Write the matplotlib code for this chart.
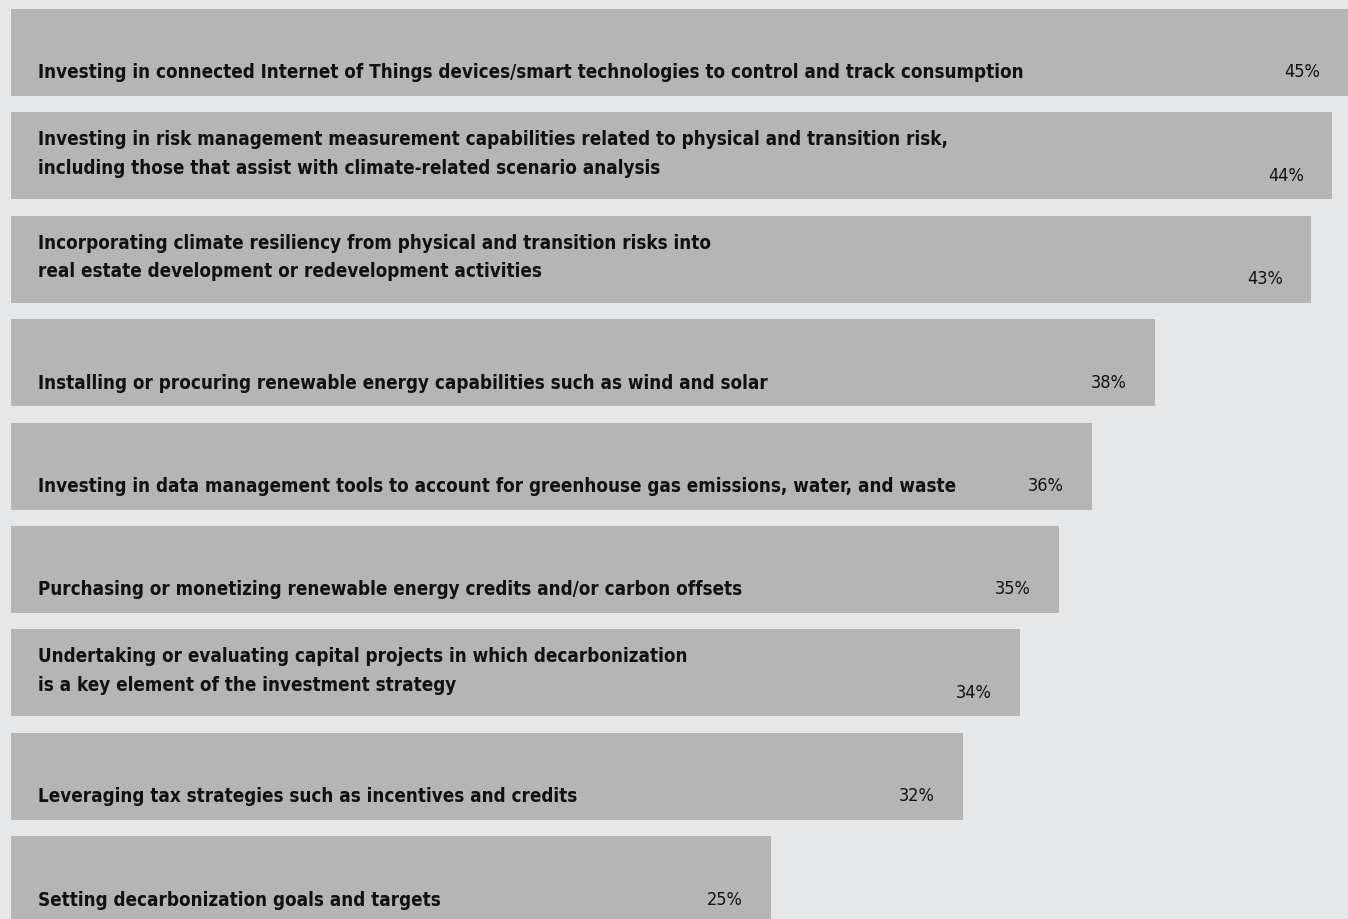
import matplotlib.pyplot as plt

# survey responses, top to bottom
labels = [
    "Investing in connected Internet of Things devices/smart technologies to control and track consumption",
    "Investing in risk management measurement capabilities related to physical and transition risk,\nincluding those that assist with climate-related scenario analysis",
    "Incorporating climate resiliency from physical and transition risks into\nreal estate development or redevelopment activities",
    "Installing or procuring renewable energy capabilities such as wind and solar",
    "Investing in data management tools to account for greenhouse gas emissions, water, and waste",
    "Purchasing or monetizing renewable energy credits and/or carbon offsets",
    "Undertaking or evaluating capital projects in which decarbonization\nis a key element of the investment strategy",
    "Leveraging tax strategies such as incentives and credits",
    "Setting decarbonization goals and targets",
]
# bar lengths, printed labels are rounded
values = [45.3, 44.0, 43.3, 38.1, 36.0, 34.9, 33.6, 31.7, 25.3]
pct_labels = ["45%", "44%", "43%", "38%", "36%", "35%", "34%", "32%", "25%"]

bg = "#e6e7e9"
bar_color = "#b5b5b5"
txt = "#111111"

fig = plt.figure(figsize=(13.48, 9.2), dpi=100)
fig.patch.set_facecolor(bg)
ax = fig.add_axes([0, 0, 1, 1])
ax.set_facecolor(bg)

ypos = list(range(len(values)))
bar_h = 0.84
ax.barh(ypos, values, height=bar_h, color=bar_color, left=0)

# ~30 px per percentage point, bars start 11 px in
scale = 30.03
xmax = 1337 / scale
ax.set_xlim(-11 / scale, xmax)
ax.set_ylim(8.38, -0.517)
ax.axis("off")

for y, lab, v, p in zip(ypos, labels, values, pct_labels):
    bottom = y + bar_h / 2
    # two-line labels sit a little higher in the bar
    dy = 22.5 if "\n" in lab else 14.5
    ax.annotate(lab, xy=(0, bottom), xytext=(27, dy), textcoords="offset pixels",
                ha="left", va="bottom", fontsize=13.5, fontweight="bold",
                family="DejaVu Sans", fontstretch="condensed",
                color=txt, linespacing=1.63, annotation_clip=False)
    ax.annotate(p, xy=(min(v, xmax), bottom), xytext=(-28, 19.5),
                textcoords="offset pixels", ha="right", va="baseline",
                fontsize=13, family="DejaVu Sans", fontstretch="condensed",
                color=txt, annotation_clip=False)

fig.savefig("out.png", dpi=100, facecolor=bg)
